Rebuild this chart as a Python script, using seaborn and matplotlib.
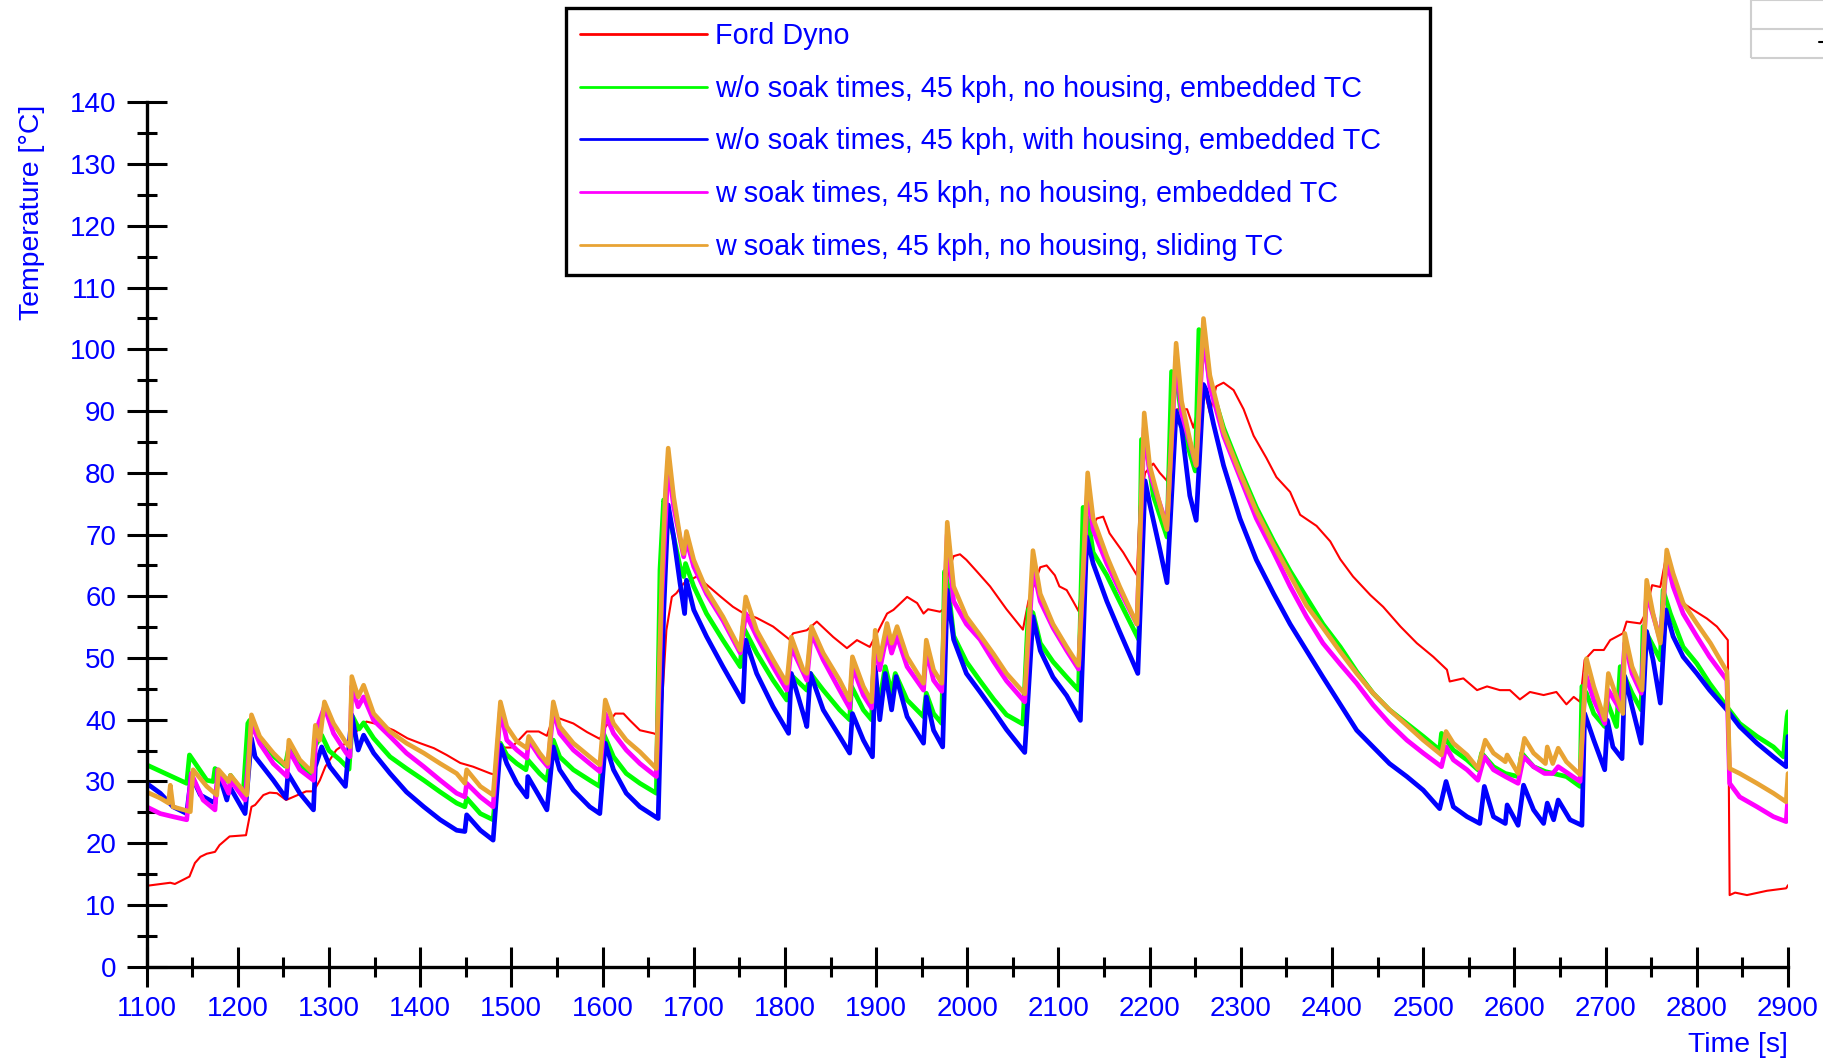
import matplotlib
matplotlib.use('Agg')
import matplotlib.pyplot as plt
import seaborn as sns
from matplotlib.patches import Rectangle
from matplotlib.lines import Line2D

### DATA

labels = ['Ford Dyno',
          'w/o soak times, 45 kph, no housing, embedded TC',
          'w/o soak times, 45 kph, with housing, embedded TC',
          'w soak times, 45 kph, no housing, embedded TC',
          'w soak times, 45 kph, no housing, sliding TC']

dyno_t = [1100, 1126, 1131, 1147, 1153, 1159, 1166, 1175, 1180, 1191, 1209, 1215, 1219, 1228, 1235, 1243, 1253,
          1275, 1283, 1290, 1296, 1308, 1323, 1330, 1341, 1356, 1371, 1386, 1400, 1415, 1429, 1444, 1458, 1477,
          1482, 1488, 1500, 1510, 1517, 1530, 1539, 1546, 1553, 1568, 1583, 1597, 1603, 1614, 1623, 1630, 1641,
          1656, 1661, 1665, 1670, 1676, 1681, 1689, 1696, 1703, 1714, 1729, 1743, 1754, 1769, 1787, 1805, 1809,
          1824, 1835, 1853, 1868, 1879, 1893, 1901, 1912, 1919, 1934, 1945, 1952, 1957, 1970, 1975, 1979, 1985,
          1992, 1999, 2010, 2025, 2043, 2061, 2067, 2080, 2087, 2096, 2101, 2109, 2116, 2122, 2133, 2142, 2149,
          2156, 2171, 2186, 2189, 2195, 2204, 2211, 2219, 2230, 2241, 2248, 2259, 2266, 2273, 2281, 2292, 2303,
          2314, 2328, 2339, 2354, 2365, 2383, 2398, 2409, 2423, 2442, 2456, 2475, 2493, 2511, 2526, 2529, 2544,
          2559, 2570, 2584, 2595, 2606, 2617, 2632, 2646, 2657, 2665, 2672, 2677, 2687, 2698, 2705, 2719, 2723,
          2738, 2743, 2751, 2760, 2767, 2774, 2785, 2796, 2811, 2822, 2834, 2836, 2842, 2855, 2877, 2898, 2900]
dyno_T = [13.1, 13.6, 13.4, 14.6, 16.8, 17.8, 18.3, 18.6, 19.7, 21.1, 21.3, 25.9, 26.2, 27.8, 28.2, 28.1, 27.0,
          28.4, 28.4, 30.2, 32.4, 35.1, 36.7, 38.1, 39.7, 39.2, 38.3, 37.0, 36.2, 35.4, 34.3, 33.0, 32.4, 31.3,
          31.1, 35.5, 35.5, 37.0, 38.1, 38.1, 37.4, 40.5, 40.2, 39.4, 38.0, 36.9, 38.8, 41.0, 41.0, 39.9, 38.3,
          37.8, 37.5, 42.1, 54.5, 59.9, 60.5, 62.1, 62.6, 63.2, 61.9, 60.0, 58.3, 57.3, 56.5, 55.1, 53.0, 54.0,
          54.5, 55.9, 53.4, 51.6, 52.9, 51.8, 54.0, 57.2, 57.8, 59.9, 58.9, 57.2, 57.9, 57.5, 58.0, 64.0, 66.5,
          66.8, 65.9, 64.1, 61.6, 57.9, 54.6, 59.2, 64.7, 65.0, 63.4, 61.6, 61.0, 59.2, 57.6, 70.2, 72.6, 72.9,
          70.2, 67.1, 63.4, 74.4, 80.0, 81.5, 80.0, 78.7, 90.3, 90.3, 87.3, 94.0, 89.7, 94.0, 94.6, 93.4, 90.3,
          86.0, 82.4, 79.3, 76.9, 73.2, 71.4, 68.9, 66.0, 63.2, 60.2, 58.3, 55.1, 52.4, 50.2, 48.1, 46.2, 46.7,
          44.8, 45.4, 44.8, 44.8, 43.3, 44.5, 44.0, 44.5, 42.5, 43.7, 42.9, 49.7, 51.3, 51.3, 52.9, 54.0, 55.9,
          55.6, 57.0, 61.8, 61.5, 67.0, 63.7, 58.9, 57.8, 56.4, 55.1, 52.9, 11.6, 12.0, 11.6, 12.3, 12.7, 13.2]

green_t = [1100, 1144, 1147, 1166, 1173, 1175, 1190, 1192, 1206, 1211, 1213, 1220, 1240, 1252, 1256, 1270, 1281,
           1284, 1292, 1300, 1312, 1322, 1326, 1333, 1338, 1349, 1367, 1385, 1404, 1422, 1440, 1449, 1451, 1466,
           1480, 1488, 1495, 1506, 1516, 1518, 1531, 1539, 1546, 1553, 1568, 1586, 1597, 1601, 1612, 1626, 1641,
           1659, 1663, 1667, 1671, 1678, 1685, 1689, 1691, 1700, 1714, 1732, 1751, 1754, 1769, 1787, 1802, 1805,
           1824, 1828, 1842, 1860, 1871, 1873, 1886, 1895, 1897, 1904, 1910, 1917, 1921, 1934, 1952, 1955, 1963,
           1972, 1975, 1979, 1985, 1999, 2014, 2029, 2043, 2061, 2067, 2072, 2080, 2094, 2109, 2122, 2127, 2133,
           2138, 2153, 2167, 2188, 2191, 2197, 2204, 2219, 2224, 2230, 2237, 2250, 2254, 2261, 2266, 2281, 2299,
           2317, 2336, 2354, 2372, 2390, 2409, 2427, 2445, 2463, 2482, 2500, 2518, 2520, 2533, 2548, 2560, 2564,
           2577, 2590, 2604, 2608, 2621, 2634, 2657, 2672, 2674, 2679, 2687, 2699, 2701, 2712, 2716, 2729, 2739,
           2741, 2760, 2763, 2771, 2785, 2800, 2814, 2833, 2847, 2866, 2884, 2895, 2899, 2900]
green_T = [32.7, 29.7, 34.3, 30.2, 30.0, 32.1, 30.0, 31.0, 28.1, 39.4, 39.9, 37.8, 34.0, 32.5, 35.5, 32.5, 31.0,
           35.6, 37.5, 35.0, 33.5, 32.0, 40.5, 38.5, 39.5, 37.0, 34.0, 32.1, 30.2, 28.3, 26.5, 25.9, 27.3, 24.8,
           23.8, 36.2, 34.3, 32.9, 31.9, 33.5, 31.3, 30.2, 36.7, 34.0, 31.9, 30.2, 29.2, 37.8, 34.0, 31.3, 29.7,
           28.1, 64.3, 75.6, 74.5, 69.6, 64.8, 63.2, 65.3, 61.6, 57.2, 52.9, 48.6, 55.1, 50.8, 46.4, 43.2, 47.5,
           44.8, 47.5, 44.8, 41.6, 40.0, 45.4, 41.6, 40.0, 47.5, 43.2, 48.6, 44.3, 47.5, 43.2, 40.5, 44.3, 41.0,
           39.4, 64.0, 61.6, 53.6, 49.4, 46.3, 43.3, 40.8, 39.3, 57.9, 57.3, 52.4, 49.4, 46.9, 44.8, 74.4, 72.0,
           67.1, 63.4, 59.2, 53.0, 85.4, 83.6, 76.3, 69.6, 96.4, 94.6, 86.7, 80.3, 103.2, 100.1, 94.6, 87.3, 80.6,
           74.4, 68.9, 64.1, 59.8, 55.5, 51.8, 47.8, 44.3, 41.6, 39.4, 37.3, 35.1, 37.8, 35.1, 33.5, 31.9, 34.6,
           32.4, 31.3, 30.8, 34.6, 32.4, 31.6, 30.8, 29.2, 45.4, 44.3, 41.0, 38.9, 43.2, 38.9, 48.6, 44.3, 41.6,
           55.1, 49.7, 61.0, 57.2, 51.8, 49.1, 45.9, 42.1, 39.4, 37.3, 35.6, 34.0, 40.5, 41.3]

blue_t = [1100, 1115, 1129, 1144, 1149, 1159, 1175, 1179, 1188, 1191, 1208, 1215, 1219, 1239, 1253, 1255, 1268,
          1283, 1285, 1292, 1301, 1318, 1325, 1332, 1338, 1349, 1367, 1385, 1404, 1422, 1440, 1449, 1451, 1466,
          1480, 1488, 1495, 1506, 1517, 1518, 1531, 1539, 1546, 1553, 1568, 1586, 1597, 1603, 1612, 1626, 1641,
          1661, 1667, 1672, 1678, 1685, 1690, 1692, 1700, 1714, 1732, 1751, 1754, 1757, 1769, 1787, 1804, 1807,
          1820, 1824, 1828, 1842, 1860, 1871, 1874, 1886, 1896, 1899, 1904, 1910, 1917, 1922, 1934, 1952, 1955,
          1963, 1973, 1978, 1985, 1999, 2014, 2029, 2043, 2063, 2072, 2080, 2094, 2109, 2124, 2131, 2138, 2153,
          2167, 2187, 2195, 2200, 2211, 2219, 2229, 2235, 2244, 2251, 2259, 2262, 2270, 2281, 2299, 2317, 2336,
          2354, 2372, 2390, 2409, 2427, 2445, 2463, 2482, 2500, 2518, 2525, 2533, 2548, 2562, 2567, 2577, 2590,
          2592, 2604, 2610, 2621, 2632, 2636, 2643, 2648, 2661, 2674, 2677, 2687, 2699, 2702, 2708, 2718, 2721,
          2729, 2739, 2745, 2752, 2760, 2766, 2774, 2785, 2800, 2814, 2833, 2847, 2866, 2884, 2898, 2900]
blue_T = [29.7, 28.1, 25.9, 24.8, 31.0, 27.8, 26.5, 31.3, 27.0, 29.2, 24.8, 37.0, 34.0, 30.2, 27.3, 31.3, 28.1,
          25.4, 32.4, 35.6, 32.4, 29.2, 40.8, 35.1, 37.5, 34.6, 31.3, 28.3, 25.9, 23.8, 22.1, 21.9, 24.6, 22.1,
          20.5, 35.9, 32.9, 29.7, 27.5, 30.8, 27.5, 25.4, 35.6, 31.9, 28.6, 25.9, 24.8, 36.2, 31.9, 28.1, 25.9,
          24.0, 57.2, 74.8, 69.6, 62.1, 57.2, 62.6, 57.8, 53.5, 48.6, 43.7, 42.9, 52.9, 47.5, 42.1, 37.8, 47.5,
          41.0, 38.9, 47.5, 41.6, 37.3, 34.6, 41.0, 36.7, 34.0, 48.6, 40.0, 47.5, 41.6, 47.0, 40.5, 36.2, 43.7,
          38.3, 35.6, 61.0, 53.0, 47.5, 44.5, 41.4, 38.4, 34.7, 56.7, 51.2, 46.9, 43.9, 39.9, 69.6, 65.3, 59.2,
          54.3, 47.5, 78.7, 75.0, 67.7, 62.2, 90.0, 87.3, 76.3, 72.3, 94.3, 93.4, 87.9, 81.2, 72.6, 65.9, 60.4,
          55.5, 51.2, 46.9, 42.5, 38.3, 35.6, 32.9, 30.8, 28.6, 25.6, 30.0, 25.9, 24.3, 23.2, 29.2, 24.3, 23.2,
          26.2, 22.9, 29.4, 25.4, 23.2, 26.5, 23.8, 27.0, 23.8, 22.9, 41.0, 36.7, 31.9, 39.9, 35.6, 33.7, 47.0,
          42.1, 36.2, 54.3, 49.7, 42.7, 57.8, 53.5, 50.2, 47.5, 44.8, 41.6, 38.9, 36.2, 34.0, 32.4, 37.3]

magenta_t = [1100, 1115, 1129, 1144, 1149, 1162, 1175, 1178, 1190, 1192, 1208, 1215, 1224, 1239, 1254, 1256, 1268,
             1283, 1286, 1295, 1305, 1319, 1323, 1325, 1332, 1338, 1349, 1367, 1385, 1404, 1422, 1440, 1449, 1451,
             1466, 1480, 1488, 1495, 1506, 1517, 1519, 1531, 1540, 1546, 1553, 1568, 1586, 1597, 1603, 1612, 1626,
             1641, 1659, 1665, 1672, 1678, 1689, 1692, 1700, 1714, 1732, 1751, 1757, 1769, 1787, 1802, 1807, 1824,
             1829, 1842, 1860, 1871, 1874, 1886, 1895, 1899, 1904, 1912, 1917, 1923, 1934, 1952, 1955, 1963, 1972,
             1978, 1985, 1999, 2014, 2029, 2043, 2063, 2072, 2080, 2094, 2109, 2122, 2132, 2138, 2153, 2167, 2186,
             2194, 2200, 2219, 2229, 2235, 2251, 2259, 2266, 2281, 2299, 2317, 2336, 2354, 2372, 2390, 2409, 2427,
             2445, 2463, 2482, 2500, 2520, 2525, 2533, 2548, 2560, 2567, 2577, 2590, 2604, 2610, 2621, 2633, 2642,
             2648, 2672, 2678, 2687, 2699, 2703, 2716, 2721, 2729, 2739, 2745, 2760, 2767, 2774, 2785, 2800, 2814,
             2833, 2836, 2847, 2866, 2884, 2898, 2900]
magenta_T = [25.9, 24.8, 24.3, 23.8, 31.3, 27.0, 25.4, 31.9, 28.1, 30.2, 27.0, 39.4, 36.2, 32.9, 30.8, 35.1, 31.9,
             30.2, 38.3, 42.1, 37.8, 34.6, 34.0, 45.4, 42.1, 43.7, 39.9, 37.3, 34.6, 32.4, 30.2, 28.1, 27.5, 29.7,
             27.5, 25.9, 41.6, 36.7, 35.1, 33.8, 36.7, 34.0, 32.4, 41.6, 37.8, 35.1, 32.9, 31.6, 41.0, 37.8, 35.1,
             32.9, 30.8, 60.0, 81.5, 74.5, 66.4, 69.1, 64.8, 60.4, 56.1, 50.8, 57.2, 53.5, 48.6, 44.8, 51.8, 46.4,
             54.0, 49.7, 44.8, 41.9, 48.6, 44.0, 41.9, 52.9, 48.1, 54.0, 50.8, 53.5, 48.6, 44.8, 51.3, 46.4, 44.6,
             70.0, 59.2, 55.5, 53.0, 49.4, 46.3, 42.9, 64.7, 59.2, 54.9, 51.2, 48.2, 77.5, 70.8, 65.3, 61.0, 55.5,
             87.3, 80.0, 71.4, 98.9, 89.7, 81.2, 102.6, 94.0, 86.0, 79.3, 72.6, 67.1, 61.6, 56.7, 52.4, 49.0, 45.9,
             42.4, 39.4, 36.7, 34.6, 32.4, 35.6, 33.5, 31.9, 30.2, 34.0, 31.9, 30.8, 29.7, 34.0, 32.4, 31.3, 31.3,
             32.4, 30.0, 47.5, 43.2, 39.4, 44.8, 41.6, 52.4, 47.5, 44.3, 60.5, 52.9, 65.9, 61.6, 57.2, 53.5, 50.2,
             46.4, 29.7, 27.5, 25.9, 24.3, 23.5, 27.5]

orange_t = [1100, 1115, 1124, 1126, 1129, 1148, 1151, 1166, 1177, 1179, 1190, 1192, 1210, 1215, 1224, 1239, 1254,
            1256, 1268, 1281, 1285, 1290, 1295, 1305, 1319, 1323, 1325, 1332, 1338, 1349, 1367, 1385, 1404, 1422,
            1440, 1449, 1451, 1466, 1480, 1488, 1495, 1506, 1517, 1519, 1531, 1540, 1546, 1553, 1568, 1586, 1597,
            1603, 1612, 1626, 1641, 1659, 1665, 1669, 1672, 1678, 1685, 1689, 1692, 1700, 1714, 1732, 1751, 1757,
            1769, 1787, 1802, 1807, 1820, 1824, 1829, 1842, 1860, 1871, 1874, 1886, 1895, 1899, 1904, 1912, 1917,
            1923, 1934, 1952, 1955, 1963, 1972, 1978, 1985, 1999, 2014, 2029, 2043, 2063, 2072, 2080, 2094, 2109,
            2122, 2132, 2138, 2153, 2167, 2186, 2194, 2200, 2211, 2219, 2229, 2235, 2244, 2251, 2259, 2266, 2281,
            2299, 2317, 2336, 2354, 2372, 2390, 2409, 2427, 2445, 2463, 2482, 2500, 2520, 2525, 2533, 2548, 2560,
            2568, 2577, 2590, 2592, 2604, 2611, 2621, 2634, 2636, 2642, 2648, 2657, 2672, 2679, 2687, 2699, 2703,
            2712, 2719, 2721, 2729, 2740, 2745, 2752, 2760, 2767, 2774, 2785, 2800, 2815, 2833, 2836, 2847, 2866,
            2884, 2898, 2900]
orange_T = [28.3, 27.3, 26.5, 29.4, 25.9, 25.1, 31.9, 29.2, 27.8, 31.9, 30.0, 31.0, 27.8, 40.8, 37.3, 34.6, 32.4,
            36.7, 33.5, 31.6, 39.1, 36.7, 42.9, 39.4, 36.2, 35.6, 47.0, 43.7, 45.6, 41.0, 38.1, 36.2, 34.6, 32.9,
            31.3, 29.7, 31.9, 29.2, 27.8, 42.9, 38.9, 36.5, 35.4, 37.3, 34.6, 32.9, 42.9, 38.9, 36.2, 34.0, 32.7,
            43.2, 39.4, 36.7, 34.8, 32.1, 62.6, 77.2, 84.0, 76.1, 69.6, 66.9, 70.5, 65.9, 61.0, 56.7, 51.3, 59.9,
            54.5, 49.7, 45.9, 53.4, 48.1, 47.5, 55.1, 50.8, 46.4, 43.2, 50.2, 45.4, 42.9, 54.5, 49.7, 55.6, 52.4,
            55.1, 50.2, 45.9, 52.9, 48.1, 45.9, 72.0, 61.6, 56.7, 53.7, 50.6, 47.5, 44.2, 67.4, 60.4, 55.5, 51.8,
            48.8, 80.0, 72.6, 66.5, 61.6, 55.5, 89.7, 81.2, 75.0, 70.8, 101.0, 91.6, 85.4, 81.2, 105.0, 95.8, 86.7,
            80.0, 73.8, 68.3, 63.4, 58.5, 54.9, 51.0, 47.5, 44.3, 41.6, 39.1, 36.7, 34.3, 38.1, 36.2, 34.3, 32.1,
            36.7, 34.6, 33.2, 34.3, 31.3, 37.0, 34.6, 32.9, 35.6, 32.9, 35.4, 33.2, 31.1, 49.9, 45.4, 40.0, 47.5,
            43.7, 41.0, 54.0, 48.6, 44.8, 62.6, 57.2, 52.4, 67.5, 63.7, 58.9, 55.6, 52.4, 47.8, 32.1, 31.3, 29.7,
            28.1, 26.7, 31.3]

series = [(dyno_t, dyno_T), (green_t, green_T), (blue_t, blue_T), (magenta_t, magenta_T), (orange_t, orange_T)]
colors = ['#FF0000', '#00FF00', '#0000FF', '#FF00FF', '#E8A334']
widths = [1.5, 3.4, 3.4, 3.4, 3.3]

### PLOT

sns.set_theme(style='white')
plt.rcParams['font.family'] = ['Liberation Sans', 'DejaVu Sans']
txt = '#0000FF'

W, H = 1824, 1059
fig = plt.figure(figsize=(W / 100, H / 100), dpi=100)
ax = fig.add_axes([146.6 / W, 1 - 966.7 / H, (1788 - 146.6) / W, (966.7 - 102.4) / H])

for (t, T), lab, c, lw in zip(series, labels, colors, widths):
    sns.lineplot(x=t, y=T, ax=ax, color=c, lw=lw, label=lab, estimator=None, sort=False)

ax.set_xlim(1100, 2900)
ax.set_ylim(0, 140)
ax.set_xticks(range(1100, 2901, 100))
ax.set_xticks(range(1150, 2900, 100), minor=True)
ax.set_yticks(range(0, 141, 10))
ax.set_yticks(range(5, 140, 10), minor=True)
ax.set_xlabel('')
ax.set_ylabel('')

for s in ['top', 'right']:
    ax.spines[s].set_visible(False)
for s in ['left', 'bottom']:
    ax.spines[s].set_color('black')
    ax.spines[s].set_linewidth(2.4)

ax.tick_params(which='major', direction='inout', length=29, width=2.2, color='black',
               labelcolor=txt, labelsize=20)
ax.tick_params(which='minor', direction='inout', length=15, width=2.2, color='black')
ax.tick_params(axis='y', which='major', pad=7.5, left=True)
ax.tick_params(axis='x', which='major', pad=6.3, bottom=True)
ax.tick_params(axis='y', which='minor', left=True)
ax.tick_params(axis='x', which='minor', bottom=True)

fig.text(32.5 / W, 1 - 105 / H, 'Temperature [°C]', rotation=90, ha='center', va='top',
         color=txt, fontsize=20.4)
fig.text(1788 / W, 1 - 1044.5 / H, 'Time [s]', ha='right', va='center', color=txt, fontsize=20.4)

leg = ax.legend(loc='upper left', bbox_to_anchor=(566.5 / W, 1 - 272 / H, (1429.7 - 566.5) / W, (272 - 8.1) / H),
                bbox_transform=fig.transFigure, mode='expand', fontsize=20.7, labelcolor=txt,
                frameon=True, fancybox=False, shadow=False, handlelength=4.4, handletextpad=0.28,
                labelspacing=0.86, borderpad=0.48, borderaxespad=0)
leg.get_frame().set_edgecolor('black')
leg.get_frame().set_linewidth(2.4)
leg.get_frame().set_alpha(1)
for h in leg.get_lines():
    h.set_linewidth(2.0)

# clipped box in the top right corner
fig.add_artist(Rectangle((1751 / W, 1 - 58 / H), 0.06, 58 / H, transform=fig.transFigure,
                         fill=False, edgecolor='#cfcfcf', lw=1.5))
fig.add_artist(Line2D([1751 / W, 1], [1 - 29 / H] * 2, transform=fig.transFigure, color='#cfcfcf', lw=1.5))
fig.add_artist(Line2D([1819 / W, 1823 / W], [1 - 42 / H] * 2, transform=fig.transFigure, color='black', lw=1.5))

plt.savefig('out.png', dpi=100)
